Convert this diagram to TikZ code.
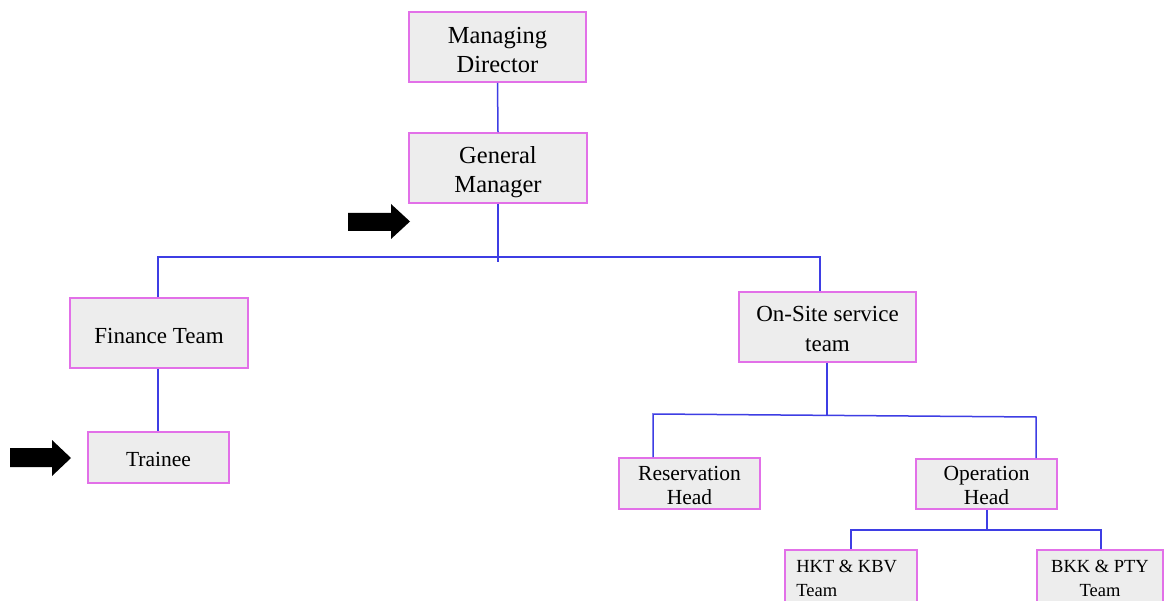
\documentclass[tikz,border=0pt]{standalone}
\usepackage{fontspec}
\setmainfont{Liberation Serif}
\definecolor{boxfill}{RGB}{237,237,237}
\definecolor{boxedge}{RGB}{226,112,232}
\definecolor{wire}{RGB}{62,62,228}
\tikzset{
  unit/.style={draw=boxedge, line width=1.8pt, fill=boxfill, inner sep=0pt},
  bigunit/.style={unit, minimum width=177pt, minimum height=70pt},
  smallunit/.style={unit, minimum width=141pt, minimum height=51pt},
  teamunit/.style={unit, minimum height=53pt},
  caption/.style={inner sep=0pt, align=center, text=black},
  bigtext/.style={caption, font=\fontsize{24.5}{29.5}\selectfont},
  midtext/.style={caption, font=\fontsize{23}{30}\selectfont},
  smalltext/.style={caption, font=\fontsize{21.5}{24}\selectfont},
  teamtext/.style={caption, font=\fontsize{18.5}{24}\selectfont},
  wireline/.style={draw=wire, line width=1.5pt},
  pointer/.style={fill=black}
}
\begin{document}
\begin{tikzpicture}[x=1pt, y=-1pt]
\useasboundingbox (0,0) rectangle (1167,601);
\fill[white] (0,0) rectangle (1167,601);

% boxes of the chart
\node[bigunit] (md) at (497.5,47) {};
\node[bigunit, minimum width=178pt] (gm) at (498,168) {};
\node[bigunit, minimum width=178pt] (fin) at (159,333) {};
\node[bigunit] (os) at (827.5,327) {};
\node[smallunit] (tr) at (158.5,457.5) {};
\node[smallunit] (rh) at (689.5,483.5) {};
\node[smallunit, minimum height=50pt] (oh) at (986.5,484) {};
\node[teamunit, minimum width=132pt] (hkt) at (851,576.5) {};
\node[teamunit, minimum width=126pt] (bkk) at (1100,576.5) {};

% box captions
\node[bigtext] (mdt) at ([yshift=-3pt]md.center) {Managing\\Director};
\node[bigtext] (gmt) at ([yshift=-4pt]gm.center) {General\\Manager};
\node[midtext] (fint) at ([yshift=-3pt]fin.center) {Finance Team};
\node[midtext] (ost) at ([yshift=-2pt]os.center) {On-Site service\\team};
\node[smalltext] (trt) at ([yshift=-2pt]tr.center) {Trainee};
\node[smalltext] (rht) at ([yshift=-1.5pt]rh.center) {Reservation\\Head};
\node[smalltext] (oht) at ([yshift=-1pt]oh.center) {Operation\\Head};
\node[teamtext, align=left, anchor=west] (hktt) at ([xshift=12pt,yshift=-2pt]hkt.west) {HKT \& KBV\\Team};
\node[teamtext] (bkkt) at ([yshift=-2pt]bkk.center) {BKK \& PTY\\Team};

% bus junctions
\coordinate (gmtail) at (498,262);
\coordinate (busL) at (158,257);
\coordinate (busR) at (820,257);
\coordinate (ostail) at (827,416);
\coordinate (bus2L) at (653,414);
\coordinate (bus2R) at (1036,417);
\coordinate (ohtail) at (987,530);
\coordinate (bus3L) at (851,530);
\coordinate (bus3R) at (1101,530);

% connectors
\draw[wireline] (md.south) -- (gm.north);
\draw[wireline] (gm.south) -- (gmtail);
\draw[wireline] (fin.north -| busL) -- (busL) -- (busR) -- (os.north -| busR);
\draw[wireline] (fin.south -| busL) -- (tr.north -| busL);
\draw[wireline] (os.south -| ostail) -- (ostail);
\draw[wireline] (rh.north -| bus2L) -- (bus2L) -- (bus2R) -- (oh.north -| bus2R);
\draw[wireline] (oh.south -| ohtail) -- (ohtail);
\draw[wireline] (hkt.north) -- (bus3L) -- (bus3R) -- (bkk.north -| bus3R);

% pointer arrows
\fill[pointer] (348,213) -- (391,213) -- (391,204) -- (410,221.5) -- (391,239) -- (391,231) -- (348,231) -- cycle;
\fill[pointer] (10,448) -- (52,448) -- (52,440) -- (71,458) -- (52,476) -- (52,467) -- (10,467) -- cycle;
\end{tikzpicture}
\end{document}
